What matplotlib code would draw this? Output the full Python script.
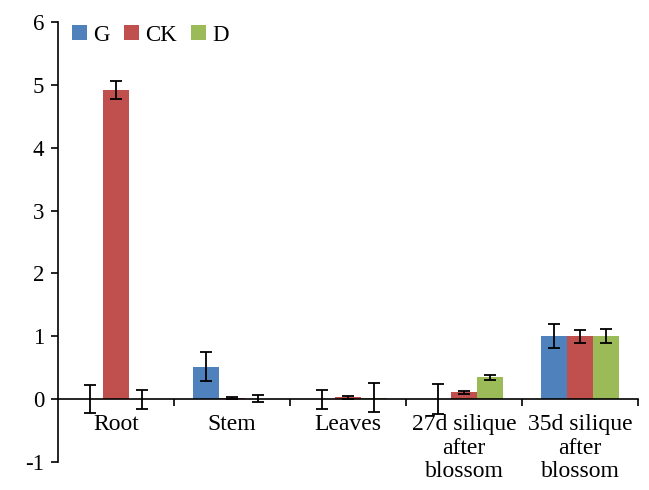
import matplotlib
matplotlib.use("Agg")
import matplotlib.pyplot as plt
import numpy as np

categories = ["Root", "Stem", "Leaves", "27d silique\nafter\nblossom", "35d silique\nafter\nblossom"]
series = ["G", "CK", "D"]
G = [0.0, 0.52, 0.0, 0.0, 1.0]
G_err = [0.22, 0.23, 0.15, 0.24, 0.19]
CK = [4.92, 0.02, 0.03, 0.11, 1.0]
CK_err = [0.15, 0.02, 0.02, 0.02, 0.10]
D = [0.0, 0.01, 0.02, 0.35, 1.0]
D_err = [0.15, 0.05, 0.23, 0.04, 0.11]
colors = ["#4F81BD", "#C0504D", "#9BBB59"]
ytick_labels = ["-1", "0", "1", "2", "3", "4", "5", "6"]

plt.rcParams['font.family'] = ['Liberation Serif', 'DejaVu Serif']
fig = plt.figure(figsize=(6.49, 4.9), dpi=100)
ax = fig.add_axes([0.0894, 0.057, 0.894, 0.898])

x = np.arange(len(categories))
w = 0.225
for i, (vals, errs, name) in enumerate(zip([G, CK, D], [G_err, CK_err, D_err], series)):
    ax.bar(x + (i - 1) * w, vals, w, color=colors[i], label=name,
           yerr=errs, error_kw=dict(ecolor='black', elinewidth=1.3, capsize=4, capthick=1.3))

ax.set_xlim(-0.5, len(categories) - 0.5)
ax.set_ylim(-1, 6)
ax.set_yticks(range(-1, 7))
ax.set_yticklabels(ytick_labels, fontsize=16.5)
ax.spines['top'].set_visible(False)
ax.spines['right'].set_visible(False)
ax.spines['bottom'].set_position(('data', 0))
ax.spines['left'].set_linewidth(1.2)
ax.spines['bottom'].set_linewidth(1.2)
ax.set_xticks(x)
ax.set_xticklabels(categories, fontsize=17, linespacing=1.15, va='top')
ax.tick_params(axis='x', which='major', length=0, pad=11)
ax.set_xticks(np.arange(0.5, len(categories) - 0.5 + 0.01, 1.0), minor=True)
ax.tick_params(axis='x', which='minor', length=5, direction='out', width=1.2)
ax.tick_params(axis='y', length=5, width=1.2, direction='out', pad=5)

ax.legend(loc='upper left', bbox_to_anchor=(0.0, 1.025), ncol=3, frameon=False,
          fontsize=16.5, handlelength=0.65, handleheight=0.65, handletextpad=0.3,
          columnspacing=0.6, borderaxespad=0.2)

fig.savefig("out.png", dpi=100)
